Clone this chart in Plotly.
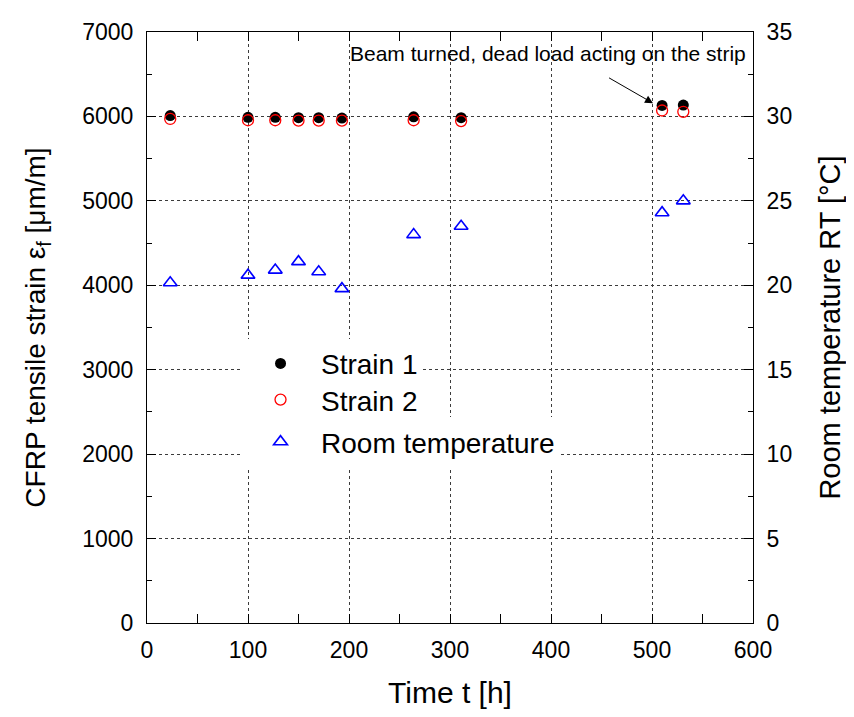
import plotly.graph_objects as go

# readings (time in hours, strain in um/m, room temperature in degC)
time_h = [23, 100, 127, 150, 170, 193, 264, 311, 510, 531]
strain_1 = [6010, 5990, 5990, 5985, 5985, 5980, 5995, 5985, 6130, 6135]
strain_2 = [5970, 5955, 5955, 5950, 5950, 5950, 5955, 5945, 6070, 6055]
room_temp = [20.15, 20.6, 20.9, 21.4, 20.8, 19.8, 23.0, 23.5, 24.3, 25.0]

x_ticks = [0, 100, 200, 300, 400, 500, 600]
y_ticks = [0, 1000, 2000, 3000, 4000, 5000, 6000, 7000]
y2_ticks = [0, 5, 10, 15, 20, 25, 30, 35]

FONT = "Liberation Sans, Arial, sans-serif"
GRID = "rgb(60, 60, 60)"

fig = go.Figure()

fig.add_trace(go.Scatter(x=time_h, y=strain_1, mode="markers", name="Strain 1",
                         marker=dict(symbol="circle", size=11, color="black"),
                         legend="legend"))
fig.add_trace(go.Scatter(x=time_h, y=strain_2, mode="markers", name="Strain 2",
                         marker=dict(symbol="circle-open", size=11, color="red",
                                     line=dict(width=1.3, color="red")),
                         legend="legend2"))
fig.add_trace(go.Scatter(x=time_h, y=room_temp, mode="markers", name="Room temperature",
                         marker=dict(symbol="triangle-up-open", size=12, color="blue",
                                     line=dict(width=1.6, color="blue")),
                         yaxis="y2", legend="legend3"))

axis_common = dict(
    showline=True,
    linecolor="black",
    linewidth=1,
    ticks="inside",
    ticklen=9,
    tickcolor="black",
    tickfont=dict(size=23, color="black"),
    ticklabeloverflow="allow",
    zeroline=False,
)

leg = dict(x=0.1535, xanchor="left", yanchor="middle", bgcolor="white",
           borderwidth=0, itemwidth=71, font=dict(size=28))

fig.update_layout(
    width=846,
    height=709,
    margin=dict(l=139, r=101, t=11, b=94),
    paper_bgcolor="white",
    plot_bgcolor="white",
    font=dict(family=FONT, color="black"),
    xaxis=dict(
        **axis_common,
        range=[0, 600],
        tickvals=x_ticks,
        mirror="allticks",
        minor=dict(ticks="inside", dtick=50, ticklen=5, tickcolor="black", showgrid=False),
        showgrid=True,
        gridcolor=GRID,
        griddash="dot",
        gridwidth=1,
        title=dict(text="Time t [h]", font=dict(size=30), standoff=20),
        ticklabelstandoff=6,
    ),
    yaxis=dict(
        **axis_common,
        range=[0, 7000],
        tickvals=y_ticks,
        minor=dict(ticks="inside", dtick=500, ticklen=5, tickcolor="black", showgrid=False),
        showgrid=True,
        gridcolor=GRID,
        griddash="dot",
        gridwidth=1,
        title=dict(text="CFRP tensile strain ε<sub>f</sub> [μm/m]", font=dict(size=28), standoff=28),
        ticklabelstandoff=8,
    ),
    yaxis2=dict(
        **axis_common,
        range=[0, 35],
        tickvals=y2_ticks,
        overlaying="y",
        side="right",
        minor=dict(ticks="inside", dtick=2.5, ticklen=5, tickcolor="black", showgrid=False),
        showgrid=False,
        title=dict(text="Room temperature RT [°C]", font=dict(size=29), standoff=28),
        ticklabelstandoff=8,
    ),
    legend=dict(leg, y=0.4387),
    legend2=dict(leg, y=0.3775),
    legend3=dict(leg, y=0.3063),
    showlegend=True,
)

# arrow pointing at the readings after the beam was turned
fig.add_annotation(x=501, y=6157, ax=456, ay=6467, xref="x", yref="y",
                   axref="x", ayref="y", text="", showarrow=True,
                   arrowhead=2, arrowsize=1.6, arrowwidth=1, arrowcolor="black")
fig.add_annotation(x=397, y=6745, xref="x", yref="y", showarrow=False,
                   text="Beam turned, dead load acting on the strip",
                   font=dict(size=21, color="black"), xanchor="center", yanchor="middle")

fig.write_html("out.html")
